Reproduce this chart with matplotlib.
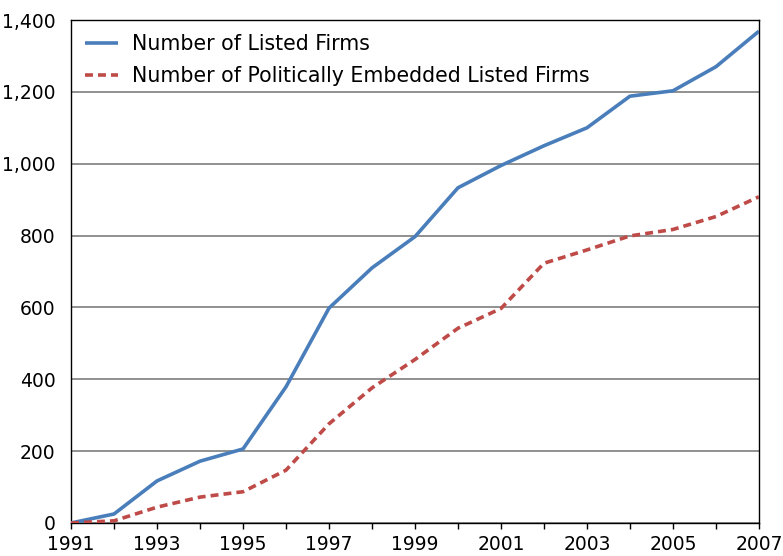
import matplotlib
matplotlib.use("Agg")
import matplotlib.pyplot as plt
from matplotlib.ticker import FuncFormatter

years = list(range(1991, 2008))
listed = [0, 25, 117, 172, 206, 379, 598, 710, 797, 933, 995, 1050, 1100, 1188, 1203, 1270, 1369]
embedded = [0, 6, 44, 72, 87, 147, 276, 376, 455, 542, 597, 723, 760, 799, 817, 853, 908]

plt.rcParams['font.family'] = 'DejaVu Sans'

fig = plt.figure(figsize=(7.83, 5.56), dpi=100)
ax = fig.add_axes([0.0907, 0.0594, 0.8786, 0.9046])

ax.plot(years, listed, color='#4A7EBB', lw=2.6, label='Number of Listed Firms',
        solid_capstyle='butt', zorder=3)
ax.plot(years, embedded, color='#BE4B48', lw=2.6, dashes=(2.2, 1.4),
        label='Number of Politically Embedded Listed Firms', zorder=3)

ax.set_xlim(1991, 2007)
ax.set_ylim(0, 1400)
ax.set_xticks(years, minor=True)
ax.set_xticks(years[::2])
ax.set_yticks(range(0, 1401, 200))
ax.yaxis.set_major_formatter(FuncFormatter(lambda v, p: f'{int(v):,}'))
ax.grid(axis='y', color='#888888', lw=1.3)
ax.set_axisbelow(True)

ax.tick_params(axis='x', which='both', direction='out', length=4, width=1,
               labelsize=13.5, pad=5)
ax.tick_params(axis='y', length=0, labelsize=13.5, pad=11)
for s in ax.spines.values():
    s.set_linewidth(1)
    s.set_color('black')

ax.legend(loc='upper left', frameon=False, fontsize=14.8, handlelength=1.6,
          handletextpad=0.65, labelspacing=0.55, borderaxespad=0.3,
          bbox_to_anchor=(0.0, 1.0))

fig.savefig('out.png', dpi=100)
